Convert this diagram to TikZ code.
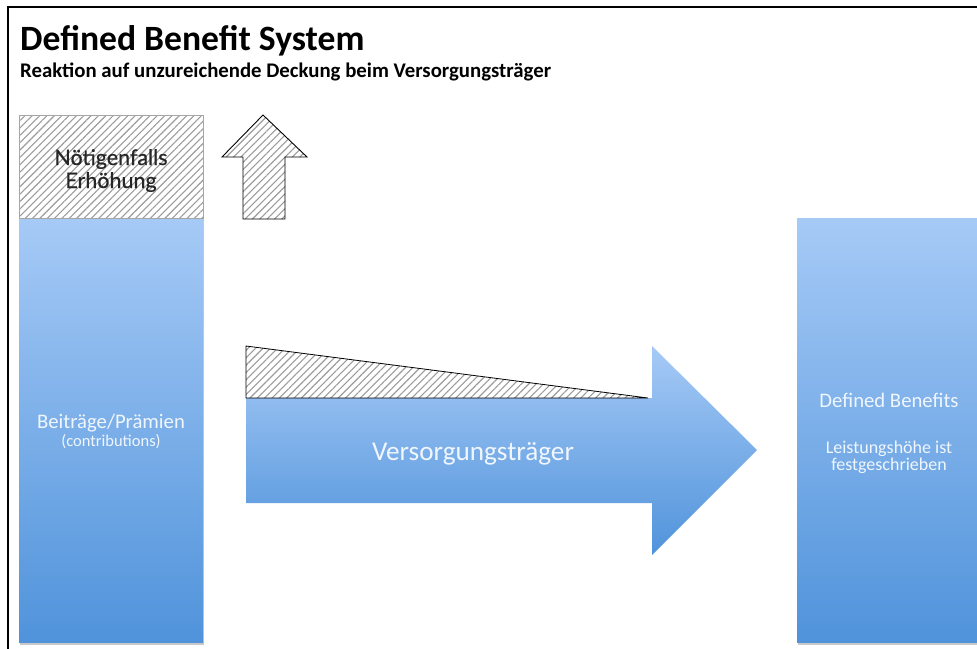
\documentclass[tikz,border=0pt]{standalone}
\usepackage{fontspec}
\setmainfont{Carlito}
\newfontfamily\latofont[FakeBold=0.6]{Lato}
\usetikzlibrary{patterns.meta}
\definecolor{bluetop}{RGB}{166,202,246}
\definecolor{bluebot}{RGB}{80,147,219}
\definecolor{hatchgray}{RGB}{155,155,155}
\definecolor{softwhite}{RGB}{240,246,253}
\definecolor{shadowgray}{RGB}{200,200,200}
\begin{document}
\begin{tikzpicture}[x=1pt,y=1pt,
  bluebox/.style={top color=bluetop,bottom color=bluebot,draw=none},
  hatched/.style={pattern={Lines[angle=45,distance=5.2pt,line width=1.1pt]},pattern color=hatchgray},
  boxtext/.style={text=softwhite,align=center,inner sep=0pt,anchor=base},
  blacktext/.style={text=black!85,align=center,inner sep=0pt,anchor=base}]
\useasboundingbox (0,0) rectangle (977,-648);
\clip (0,0) rectangle (977,-648);
% frame
\draw[line width=2pt] (8,-700) -- (8,-7) -- (1000,-7);
% title
\node[anchor=base west,inner sep=0pt,font=\bfseries\fontsize{35.6}{40}\selectfont] (title) at (20,-50) {Defined Benefit System};
\node[anchor=base west,inner sep=0pt,font=\bfseries\fontsize{20.8}{24}\selectfont] (subtitle) at (20,-77) {Reaktion auf unzureichende Deckung beim Versorgungsträger};
% left column
\fill[shadowgray] (20,-218) rectangle (204,-645);
\node[bluebox,minimum width=184pt,minimum height=424pt,anchor=north west,inner sep=0pt] (contrib) at (19,-218) {};
\node[hatched,draw=gray!70,line width=0.6pt,minimum width=184pt,minimum height=103pt,anchor=north west,inner sep=0pt] (raise) at (19,-115) {};
\node[blacktext,font=\latofont\fontsize{21.5}{24}\selectfont] (raiseA) at (111,-165) {Nötigenfalls};
\node[blacktext,font=\latofont\fontsize{21.5}{24}\selectfont] (raiseB) at (111,-188) {Erhöhung};
\node[boxtext,font=\fontsize{20.7}{24}\selectfont] (contribA) at (111,-428) {Beiträge/Prämien};
\node[boxtext,font=\fontsize{16.5}{20}\selectfont] (contribB) at (111,-446) {(contributions)};
% up arrow
\draw[hatched,draw=black,line width=0.9pt,line join=miter] (263,-115) -- (307,-157) -- (285,-157) -- (285,-219) -- (243,-219) -- (243,-157) -- (222,-157) -- cycle;
% big arrow
\path[bluebox] (246,-398) -- (652,-398) -- (652,-346) -- (757,-450) -- (652,-555) -- (652,-503) -- (246,-503) -- cycle;
\draw[hatched,draw=black,line width=0.8pt] (246,-346) -- (648,-398) -- (246,-398) -- cycle;
\node[boxtext,font=\fontsize{27.2}{30}\selectfont] (carrier) at (473,-460) {Versorgungsträger};
% right column
\fill[shadowgray] (798,-218) rectangle (1000,-645);
\node[bluebox,minimum width=200pt,minimum height=424pt,anchor=north west,inner sep=0pt] (benefits) at (797,-218) {};
\node[boxtext,font=\fontsize{20.7}{24}\selectfont] (benA) at (889,-407) {Defined Benefits};
\node[boxtext,font=\fontsize{18}{21}\selectfont] (benB) at (889,-453) {Leistungshöhe ist};
\node[boxtext,font=\fontsize{18}{21}\selectfont] (benC) at (889,-470) {festgeschrieben};
\end{tikzpicture}
\end{document}
